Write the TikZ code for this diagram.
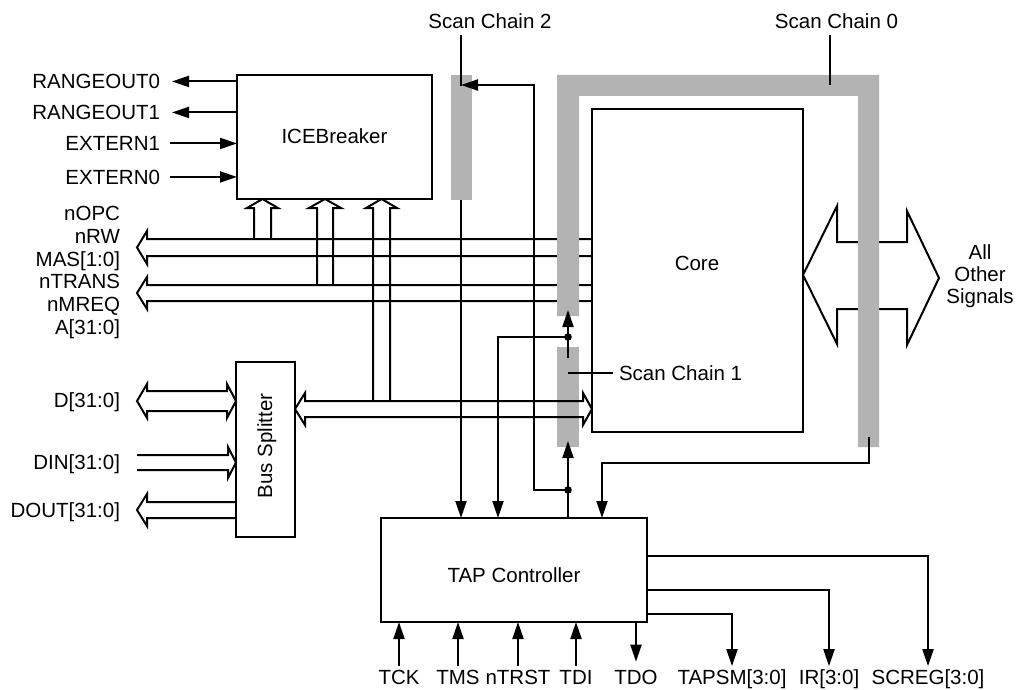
\documentclass[tikz,border=0pt]{standalone}
\usepackage{fontspec}
\setmainfont{Liberation Sans}
\usetikzlibrary{arrows.meta}
\definecolor{scgray}{RGB}{179,179,179}
\newcommand\lbfont{\fontsize{20.5}{23}\selectfont}
\begin{document}
\begin{tikzpicture}[x=1pt,y=-1pt,
  ln/.style={line width=2pt},
  arr/.style={line width=2pt,-{Triangle[length=17pt,width=11pt]}},
  bus/.style={line width=2pt,line join=miter},
  box/.style={draw,line width=2pt,inner sep=0pt,outer sep=0pt,anchor=north west},
  lbl/.style={inner sep=0pt,outer sep=0pt,font=\lbfont},
  lead/.style={line width=1.6pt},
  dotc/.style={fill=black}]
\useasboundingbox (0,0) rectangle (1020,690);

% ---------- boxes ----------
\node[box,minimum width=195pt,minimum height=124pt] (ice) at (237,75) {};
\node[box,minimum width=211pt,minimum height=323pt] (core) at (592,109) {};
\node[box,minimum width=59pt,minimum height=175pt] (bsp) at (236,362) {};
\node[box,minimum width=266pt,minimum height=104pt] (tap) at (381,518) {};

\node[lbl,anchor=base] (icet) at (334.5,143) {ICEBreaker};
\node[lbl,anchor=base] (coret) at (697,270) {Core};
\node[lbl,anchor=base,rotate=90] (bspt) at (272,446) {Bus Splitter};
\node[lbl,anchor=base] (tapt) at (514,582) {TAP Controller};

% ---------- left labels ----------
\node[lbl,anchor=base east] (r0) at (160,88.5) {RANGEOUT0};
\node[lbl,anchor=base east] (r1) at (160,119.5) {RANGEOUT1};
\node[lbl,anchor=base east] (e1) at (160,150.5) {EXTERN1};
\node[lbl,anchor=base east] (e0) at (160,184) {EXTERN0};

\node[lbl,anchor=base east] (nopc) at (120,220.5) {nOPC};
\node[lbl,anchor=base east] (nrw) at (120,243.3) {nRW};
\node[lbl,anchor=base east] (mas) at (120,266) {MAS[1:0]};
\node[lbl,anchor=base east] (ntrans) at (120,288.7) {nTRANS};
\node[lbl,anchor=base east] (nmreq) at (120,311.4) {nMREQ};
\node[lbl,anchor=base east] (addr) at (120,334.1) {A[31:0]};

\node[lbl,anchor=base east] (dbus) at (120,407) {D[31:0]};
\node[lbl,anchor=base east] (din) at (120,469) {DIN[31:0]};
\node[lbl,anchor=base east] (dout) at (120,517) {DOUT[31:0]};

% ---------- top / right labels ----------
\node[lbl,anchor=base] (sc2) at (490,29) {Scan Chain 2};
\node[lbl,anchor=base] (sc0) at (836.5,29) {Scan Chain 0};
\node[lbl,anchor=base west] (sc1) at (619,380) {Scan Chain 1};
\node[lbl,anchor=base] (aos1) at (980,259) {All};
\node[lbl,anchor=base] (aos2) at (980,281) {Other};
\node[lbl,anchor=base] (aos3) at (980,303) {Signals};

% ---------- bottom labels ----------
\node[lbl,anchor=base] (tck) at (399,684) {TCK};
\node[lbl,anchor=base] (tms) at (458,684) {TMS};
\node[lbl,anchor=base] (ntrst) at (518,684) {nTRST};
\node[lbl,anchor=base] (tdi) at (576,684) {TDI};
\node[lbl,anchor=base] (tdo) at (636,684) {TDO};
\node[lbl,anchor=base] (tapsm) at (732,684) {TAPSM[3:0]};
\node[lbl,anchor=base] (ir) at (829,684) {IR[3:0]};
\node[lbl,anchor=base] (screg) at (928,684) {SCREG[3:0]};

% ---------- ICEBreaker side signals ----------
\draw[arr] (ice.west |- r0) -- ([xshift=12pt]r0.east);
\draw[arr] (ice.west |- r1) -- ([xshift=12pt]r1.east);
\draw[arr] ([xshift=10pt]e1.east) -- (ice.west |- e1);
\draw[arr] ([xshift=10pt]e0.east) -- (ice.west |- e0);

% ---------- address / control buses (under scan chain 0) ----------
\draw[bus] (core.west |- 0,239) -- (147,239) -- (147,231) -- (137,247.5) -- (147,264) -- (147,256) -- (core.west |- 0,256);
\draw[bus] (core.west |- 0,285) -- (147,285) -- (147,277) -- (137,293) -- (147,309) -- (147,301) -- (core.west |- 0,301);

% ---------- hollow arrows into ICEBreaker ----------
\draw[bus] (254,239) -- (254,208) -- (247,208) -- (262.5,199) -- (278,208) -- (271,208) -- (271,239);
\draw[bus] (317,285) -- (317,208) -- (309,208) -- (325,199) -- (341,208) -- (333,208) -- (333,285);
\draw[bus] (373,401) -- (373,208) -- (366,208) -- (381.5,199) -- (397,208) -- (390,208) -- (390,401);

% ---------- All Other Signals double arrow ----------
\draw[bus] (core.east |- 0,275) -- (837,206) -- (837,242) -- (907,242) -- (907,211) -- (939,278) -- (907,345) -- (907,309) -- (837,309) -- (837,344) -- cycle;

% ---------- data buses at bus splitter ----------
\draw[bus] (147,391) -- (227,391) -- (227,384) -- (bsp.west |- 0,401) -- (227,418) -- (227,411) -- (147,411) -- (147,418) -- (137,401) -- (147,384) -- cycle;
\draw[bus] (137,455) -- (228,455) -- (228,447) -- (bsp.west |- 0,462.5) -- (228,478) -- (228,470) -- (137,470);
\draw[bus] (bsp.west |- 0,502) -- (147,502) -- (147,494) -- (137,510) -- (147,526) -- (147,518) -- (bsp.west |- 0,518);

% ---------- scan chains (grey) ----------
\fill[scgray] (557,75) -- (879,75) -- (879,447) -- (858,447) -- (858,96) -- (579,96) -- (579,316) -- (557,316) -- cycle;
\fill[scgray] (557,347) rectangle (579,447);
\fill[scgray] (451,75) rectangle (472,200);

% ---------- internal data bus (over scan chain 1) ----------
\draw[bus] (305,401) -- (583,401) -- (583,393) -- (core.west |- 0,409) -- (583,425) -- (583,417) -- (305,417) -- (305,425) -- (bsp.east |- 0,409) -- (305,393) -- cycle;

% ---------- leaders ----------
\draw[lead] (461,35) -- (461,86);
\draw[lead] (830,35) -- (830,85);
\draw[line width=1.3pt] (568,373) -- ([xshift=-6pt]sc1.west |- 0,373);

% ---------- scan / TAP wiring ----------
\draw[arr] (461,200) -- (461,0 |- tap.north);
\draw[arr] (568,358) -- (568,310);
\draw[arr] (568,337) -- (498,337) -- (498,0 |- tap.north);
\draw[arr] (568,0 |- tap.north) -- (568,441);
\draw[arr] (568,490) -- (534,490) -- (534,85) -- (461,85);
\draw[arr] (869,437) -- (869,463) -- (602,463) -- (602,0 |- tap.north);
\fill[dotc] (568,337) circle (3.8pt);
\fill[dotc] (568,490) circle (3.8pt);

% ---------- TAP bottom pins ----------
\draw[arr] ([yshift=4pt]tck.north) -- (tck.north |- tap.south);
\draw[arr] ([yshift=4pt]tms.north) -- (tms.north |- tap.south);
\draw[arr] ([yshift=4pt]ntrst.north) -- (ntrst.north |- tap.south);
\draw[arr] ([yshift=4pt]tdi.north) -- (tdi.north |- tap.south);
\draw[arr] (tdo.north |- tap.south) -- ([yshift=8pt]tdo.north);

% ---------- TAP outputs ----------
\draw[arr] (tap.east |- 0,556) -- (928,556) -- ([yshift=3pt]screg.north);
\draw[arr] (tap.east |- 0,590) -- (829,590) -- ([yshift=3pt]ir.north);
\draw[arr] (tap.east |- 0,614) -- (732,614) -- ([yshift=3pt]tapsm.north);
\end{tikzpicture}
\end{document}
